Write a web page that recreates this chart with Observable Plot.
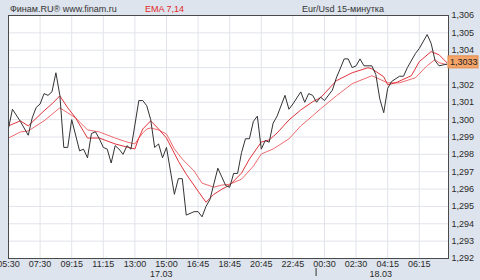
<!DOCTYPE html>
<html><head><meta charset="utf-8">
<script src="https://cdn.jsdelivr.net/npm/d3@7"></script>
<script src="https://cdn.jsdelivr.net/npm/@observablehq/plot@0.6"></script>
<style>
html,body{margin:0;padding:0;background:#dee4ed;}
#chart{width:480px;height:280px;}
</style>
</head><body><div id="chart"></div>
<script>
// [bar index (15-min bars), price]
const closeSeries = [
[0,1.2995],[1,1.3006],[3,1.2999],[5,1.2991],[6,1.3001],[7,1.3007],[8,1.3009],[9,1.3015],[10,1.3014],[11,1.3016],
[12,1.3027],[13,1.3014],[14,1.2984],[15,1.2984],[16,1.3000],[18,1.2982],[19,1.2983],[20,1.2978],[21,1.2992],[22,1.2993],
[23,1.2989],[24,1.2984],[25,1.2983],[26,1.2975],[27,1.2985],[28,1.2983],[29,1.2980],[30,1.2985],[31,1.2983],[33,1.3011],
[34,1.3011],[35,1.3008],[36,1.3000],[37,1.2984],[38,1.2986],[39,1.2978],[40,1.2984],[42,1.2957],[43,1.2966],[44,1.2966],
[45,1.2945],[47,1.2947],[48,1.2947],[49,1.2944],[50,1.2950],[51,1.2954],[53,1.2972],[54,1.2967],[55,1.2962],[56,1.2961],
[57,1.2969],[58,1.2969],[59,1.2981],[60,1.2989],[61,1.2989],[62,1.2999],[63,1.3002],[64,1.2983],[65,1.2988],[66,1.2987],
[67,1.2998],[68,1.3002],[70,1.3014],[71,1.3006],[72,1.3009],[74,1.3016],[75,1.3010],[76,1.3015],[77,1.3014],[78,1.3010],
[79,1.3013],[80,1.3011],[82,1.3017],[83,1.3024],[85,1.3035],[86,1.3035],[87,1.3030],[88,1.3031],[89,1.3035],[90,1.3031],
[92,1.3031],[93,1.3026],[94,1.3012],[95,1.3004],[96,1.3018],[97,1.3022],[99,1.3025],[100,1.3025],[101,1.3030],[103,1.3038],
[104,1.3041],[106,1.3049],[107,1.3044],[108,1.3034],[109,1.3031],[111,1.3032]
];
const ema7Series = [
[0,1.29964],[3,1.29993],[5,1.29964],[9,1.30051],[11,1.30091],[13,1.30137],[15,1.30068],[17,1.30010],[20,1.29894],[23,1.29894],
[27,1.29860],[30,1.29842],[32,1.29831],[33,1.29894],[34,1.29946],[36,1.29993],[38,1.29946],[40,1.29894],[43,1.29761],[45,1.29686],
[48,1.29588],[50,1.29524],[52,1.29570],[54,1.29599],[56,1.29623],[59,1.29692],[61,1.29773],[64,1.29871],[66,1.29883],[68,1.29923],
[71,1.29998],[74,1.30056],[77,1.30103],[79,1.30126],[83,1.30224],[87,1.30270],[91,1.30299],[92,1.30293],[95,1.30247],[96,1.30201],
[98,1.30212],[102,1.30253],[104,1.30334],[107,1.30392],[109,1.30374],[111,1.30328]
];
const ema14Series = [
[0,1.29894],[3,1.29929],[5,1.29935],[9,1.29993],[13,1.30068],[15,1.30039],[17,1.30010],[20,1.29941],[23,1.29929],[27,1.29894],
[30,1.29871],[32,1.29860],[33,1.29894],[34,1.29923],[35,1.29946],[36,1.29952],[38,1.29941],[40,1.29917],[42,1.29831],[44,1.29773],
[47,1.29704],[49,1.29634],[52,1.29611],[54,1.29623],[56,1.29628],[59,1.29657],[62,1.29732],[64,1.29802],[67,1.29831],[71,1.29889],
[74,1.29964],[77,1.30022],[79,1.30062],[83,1.30137],[87,1.30207],[92,1.30253],[96,1.30212],[99,1.30212],[103,1.30241],[106,1.30311],
[108,1.30346],[109,1.30328],[111,1.30317]
];
const timeLabels = ["05:30","07:30","09:15","11:15","13:00","15:00","16:45","18:45","20:45","22:45","00:30","02:30","04:15","06:15"];
const dateLabels = ["17.03","18.03"];
const priceTicks = [1.292,1.293,1.294,1.295,1.296,1.297,1.298,1.299,1.300,1.301,1.302,1.303,1.304,1.305,1.306];
const lastPrice = 1.3033;

const tickIdx = timeLabels.map((_, i) => i * 8);
const fmt = d => d.toFixed(3).replace(".", ",");
// the 1,303 label sits under the last-price marker, so it is not drawn
const labelTicks = priceTicks.filter(d => Math.abs(d - lastPrice) > 0.0006);

const plot = Plot.plot({
  width: 480, height: 280,
  marginLeft: 8, marginRight: 32, marginTop: 15, marginBottom: 22,
  style: {background: "#dee4ed", fontFamily: "'Liberation Sans', Arial, sans-serif", fontSize: "9px", color: "#2a2a2a", overflow: "visible"},
  x: {domain: [0, 111.4]},
  y: {domain: [1.292, 1.306]},
  marks: [
    Plot.frame({fill: "white", stroke: "none"}),
    Plot.gridY(priceTicks, {stroke: "#e1e4ea", strokeOpacity: 1}),
    Plot.gridX(tickIdx, {stroke: "#e1e4ea", strokeOpacity: 1}),
    Plot.line(ema14Series, {x: d => d[0], y: d => d[1], stroke: "#ee6a6e", strokeWidth: 1}),
    Plot.line(ema7Series, {x: d => d[0], y: d => d[1], stroke: "#e0343c", strokeWidth: 1}),
    Plot.line(closeSeries, {x: d => d[0], y: d => d[1], stroke: "#333", strokeWidth: 1}),
    Plot.frame({stroke: "#4a4a4a"}),
    Plot.axisY(labelTicks, {anchor: "right", tickSize: 0, tickPadding: 3, tickFormat: fmt, label: null}),
    Plot.axisX(tickIdx, {anchor: "bottom", tickSize: 0, tickPadding: 2, tickFormat: d => timeLabels[d / 8], label: null})
  ]
});

const svg = d3.select(plot);
const xs = plot.scale("x"), ys = plot.scale("y");
const font = "'Liberation Sans', Arial, sans-serif";

function addText(x, y, t, fill, anchor) {
  return svg.append("text").attr("x", x).attr("y", y).attr("text-anchor", anchor || "start")
    .attr("font-family", font).attr("font-size", 9).attr("fill", fill).text(t);
}

// header texts
addText(10, 12, "Финам.RU® www.finam.ru", "#333");
addText(145, 12, "EMA 7,14", "#e02828");
addText(343, 12, "Eur/Usd 15-минутка", "#333", "middle");

// date labels under the time axis
const datePos = [38.8, 94.4];
dateLabels.forEach((t, i) => addText(xs.apply(datePos[i]), 277, t, "#2a2a2a", "middle"));

// day separator tick
svg.append("line").attr("x1", xs.apply(78)).attr("x2", xs.apply(78)).attr("y1", 268).attr("y2", 276)
  .attr("stroke", "#333").attr("stroke-width", 1);

// last price marker
const yl = ys.apply(lastPrice);
svg.append("rect").attr("x", 448).attr("y", yl - 6).attr("width", 30).attr("height", 12)
  .attr("fill", "#f6a56a").attr("stroke", "#e08a48");
addText(450, yl + 3.2, String(lastPrice).replace(".", ","), "#222");

document.getElementById("chart").appendChild(plot);
</script>
</body></html>
